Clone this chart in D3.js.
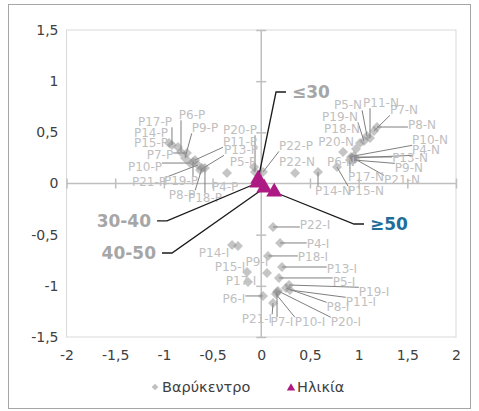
<!DOCTYPE html>
<html><head><meta charset="utf-8">
<script src="https://cdn.jsdelivr.net/npm/d3@7"></script>
<style>body{margin:0;background:#fff}</style>
</head><body><svg id="c" width="479" height="411"></svg>
<script>
// Centroids (Βαρύκεντρο)
const names = ["P17-P","P14-P","P15-P","P6-P","P9-P","P7-P","P10-P","P21-P","P19-P","P8-P","P18-P","P4-P","P11-P","P13-P","P5-P","P20-P","P22-P",
"P5-N","P11-N","P7-N","P8-N","P19-N","P18-N","P20-N","P10-N","P4-N","P13-N","P9-N","P6-N","P17-N","P21-N","P15-N","P14-N","P22-N",
"P22-I","P4-I","P14-I","","P18-I","P9-I","P15-I","P17-I","P13-I","P5-I","P19-I","P11-I","P8-I","P6-I","P21-I","P7-I","P10-I","P20-I"];
const cx = [-0.917,-0.947,-0.855,-0.824,-0.783,-0.763,-0.732,-0.650,-0.701,-0.608,-0.578,-0.352,-0.680,-0.629,-0.074,-0.064,0.018,
1.086,1.117,1.158,1.189,1.055,1.014,0.973,0.952,0.932,0.922,0.942,0.840,0.911,0.963,0.778,0.583,0.347,
0.121,0.193,-0.300,-0.239,0.069,0.059,-0.146,-0.136,0.213,0.182,0.285,0.295,0.254,0.018,0.121,0.162,0.151,0.172];
const cy = [0.376,0.396,0.357,0.308,0.249,0.298,0.200,0.181,0.210,0.151,0.151,0.103,0.230,0.132,0.161,0.112,0.112,
0.464,0.445,0.513,0.552,0.415,0.396,0.337,0.269,0.249,0.259,0.230,0.308,0.230,0.239,0.161,0.112,0.103,
-0.425,-0.581,-0.601,-0.611,-0.708,-0.875,-0.865,-0.963,-0.816,-0.923,-0.992,-1.041,-1.021,-1.099,-1.168,-1.060,-1.080,-1.050];
// Label anchor positions (data units)
const lx = [-1.091,-1.132,-1.132,-0.711,-0.578,-1.040,-1.194,-1.153,-0.824,-0.814,-0.578,-0.372,-0.218,-0.208,-0.187,-0.218,0.357,
0.891,1.230,1.466,1.651,0.809,0.829,0.768,1.733,1.692,1.528,1.517,0.819,1.076,1.445,1.076,0.737,0.367,
0.552,0.583,-0.485,-0.239,0.531,-0.044,-0.321,-0.208,0.829,0.850,1.158,1.024,0.788,-0.280,-0.044,0.213,0.501,0.870];
const ly = [0.601,0.493,0.396,0.669,0.542,0.279,0.161,0.015,0.024,-0.112,-0.142,-0.034,0.406,0.327,0.210,0.523,0.366,
0.767,0.787,0.718,0.572,0.650,0.533,0.406,0.425,0.327,0.249,0.151,0.210,0.064,0.034,-0.073,-0.073,0.210,
-0.406,-0.591,-0.679,-0.611,-0.718,-0.767,-0.816,-0.953,-0.836,-0.963,-1.060,-1.158,-1.207,-1.129,-1.324,-1.353,-1.353,-1.353];

// Age groups (Ηλικία)
const ageGroups = ["≤30","30-40","40-50","≥50"];
const ageX = [-0.031,-0.041,0.031,0.133];
const ageY = [0.044,0.005,-0.044,-0.083];
const ageLabelX = [0.316,-1.132,-1.081,1.117];
const ageLabelY = [0.894,-0.366,-0.679,-0.396];
const ageAnchor = ["start","end","end","start"];
const ageColor = ["#a6a6a6","#a6a6a6","#a6a6a6","#1f6e9a"];

const xTicks = [-2,-1.5,-1,-0.5,0,0.5,1,1.5,2];
const yTicks = [-1.5,-1,-0.5,0,0.5,1,1.5];
const legendItems = ["Βαρύκεντρο","Ηλικία"];

const fmt = d => String(d).replace('.', ',');
const FONT = "'DejaVu Sans', sans-serif";
const svg = d3.select('#c');
const x = d3.scaleLinear().domain([-2,2]).range([66.5,456]);
const y = d3.scaleLinear().domain([-1.5,1.5]).range([337,30]);

svg.append('rect').attr('x',8.5).attr('y',4.5).attr('width',462).attr('height',404)
  .attr('fill','#fff').attr('stroke','#a6a6a6');
svg.append('rect').attr('x',x(-2)).attr('y',y(1.5)).attr('width',x(2)-x(-2)).attr('height',y(-1.5)-y(1.5))
  .attr('fill','none').attr('stroke','#d9d9d9');

// tick labels
const gxl = svg.append('g').attr('transform',`translate(0,${y(-1.5)})`)
  .call(d3.axisBottom(x).tickValues(xTicks).tickFormat(fmt).tickSize(0).tickPadding(13));
const gyl = svg.append('g').attr('transform',`translate(${x(-2)},0)`)
  .call(d3.axisLeft(y).tickValues(yTicks).tickFormat(fmt).tickSize(0).tickPadding(8));
[gxl,gyl].forEach(g=>{g.select('.domain').remove();
  g.selectAll('text').attr('font-family',FONT).attr('font-size',14).attr('fill','#404040');});

// crossing axes through origin
const axCol = '#bfbfbf';
const gx = svg.append('g').attr('transform',`translate(0,${y(0)+5})`)
  .call(d3.axisBottom(x).tickValues(xTicks).tickSizeInner(-10).tickSizeOuter(0).tickFormat(''));
const gy = svg.append('g').attr('transform',`translate(${x(0)-5},0)`)
  .call(d3.axisLeft(y).tickValues(yTicks).tickSizeInner(-10).tickSizeOuter(0).tickFormat(''));
[gx,gy].forEach(g=>{g.select('.domain').remove(); g.selectAll('line').attr('stroke',axCol).attr('stroke-width',1.5);});
svg.append('line').attr('x1',x(-2)).attr('x2',x(2)).attr('y1',y(0)).attr('y2',y(0)).attr('stroke',axCol).attr('stroke-width',1.5);
svg.append('line').attr('x1',x(0)).attr('x2',x(0)).attr('y1',y(-1.5)).attr('y2',y(1.5)).attr('stroke',axCol).attr('stroke-width',1.5);

const pts = names.map((n,i)=>({n, px:x(cx[i]), py:y(cy[i]), lxp:x(lx[i]), lyp:y(ly[i])}));
const gLead = svg.append('g');
const gMark = svg.append('g');
const gLab = svg.append('g');

gMark.selectAll('path').data(pts).join('path')
  .attr('d', d3.symbol(d3.symbolSquare, 50)())
  .attr('transform', d=>`translate(${d.px},${d.py}) rotate(45)`)
  .attr('fill','#8c8c8c').attr('fill-opacity',0.5);

gLab.selectAll('text').data(pts.filter(d=>d.n)).join('text')
  .attr('x',d=>d.lxp).attr('y',d=>d.lyp).attr('text-anchor','middle').attr('dy','0.36em')
  .attr('font-family',FONT).attr('font-size',12).attr('fill','#bfbfbf').text(d=>d.n)
  .each(function(d){
    const b = this.getBBox();
    const nx = Math.max(b.x, Math.min(d.px, b.x+b.width));
    const ny = Math.max(b.y+2, Math.min(d.py, b.y+b.height-2));
    const dist = Math.hypot(nx-d.px, ny-d.py);
    if (dist > 10) gLead.append('line').attr('x1',d.px).attr('y1',d.py).attr('x2',nx).attr('y2',ny)
      .attr('stroke','#7f7f7f').attr('stroke-width',1);
  });

// age leaders
const gAge = svg.append('g');
ageGroups.forEach((g,i)=>{
  const tx = x(ageLabelX[i]), ty = y(ageLabelY[i]);
  const dir = ageAnchor[i]==='start' ? -1 : 1;
  const e1 = tx + dir*6, e2 = tx + dir*16;
  gAge.append('polyline').attr('points',`${x(ageX[i])},${y(ageY[i])} ${e2},${ty} ${e1},${ty}`)
    .attr('fill','none').attr('stroke','#1a1a1a').attr('stroke-width',1.3);
  gAge.append('text').attr('x',tx).attr('y',ty).attr('dy','0.36em').attr('text-anchor',ageAnchor[i])
    .attr('font-family',FONT).attr('font-weight','bold').attr('font-size',17).attr('fill',ageColor[i]).text(g);
});
svg.append('g').selectAll('path').data(ageGroups).join('path')
  .attr('d', d3.symbol(d3.symbolTriangle, 110)())
  .attr('transform',(d,i)=>`translate(${x(ageX[i])},${y(ageY[i])})`)
  .attr('fill','#ae1a84');

// legend
const lg = svg.append('g');
lg.append('path').attr('d', d3.symbol(d3.symbolSquare, 22)()).attr('transform','translate(155,387) rotate(45)').attr('fill','#bfbfbf');
lg.append('text').attr('x',162).attr('y',387).attr('dy','0.36em').attr('font-family',FONT).attr('font-size',14.5).attr('fill','#404040').text(legendItems[0]);
lg.append('path').attr('d', d3.symbol(d3.symbolTriangle, 30)()).attr('transform','translate(291,388)').attr('fill','#ae1a84');
lg.append('text').attr('x',297).attr('y',387).attr('dy','0.36em').attr('font-family',FONT).attr('font-size',14.5).attr('fill','#404040').text(legendItems[1]);
</script></body></html>
